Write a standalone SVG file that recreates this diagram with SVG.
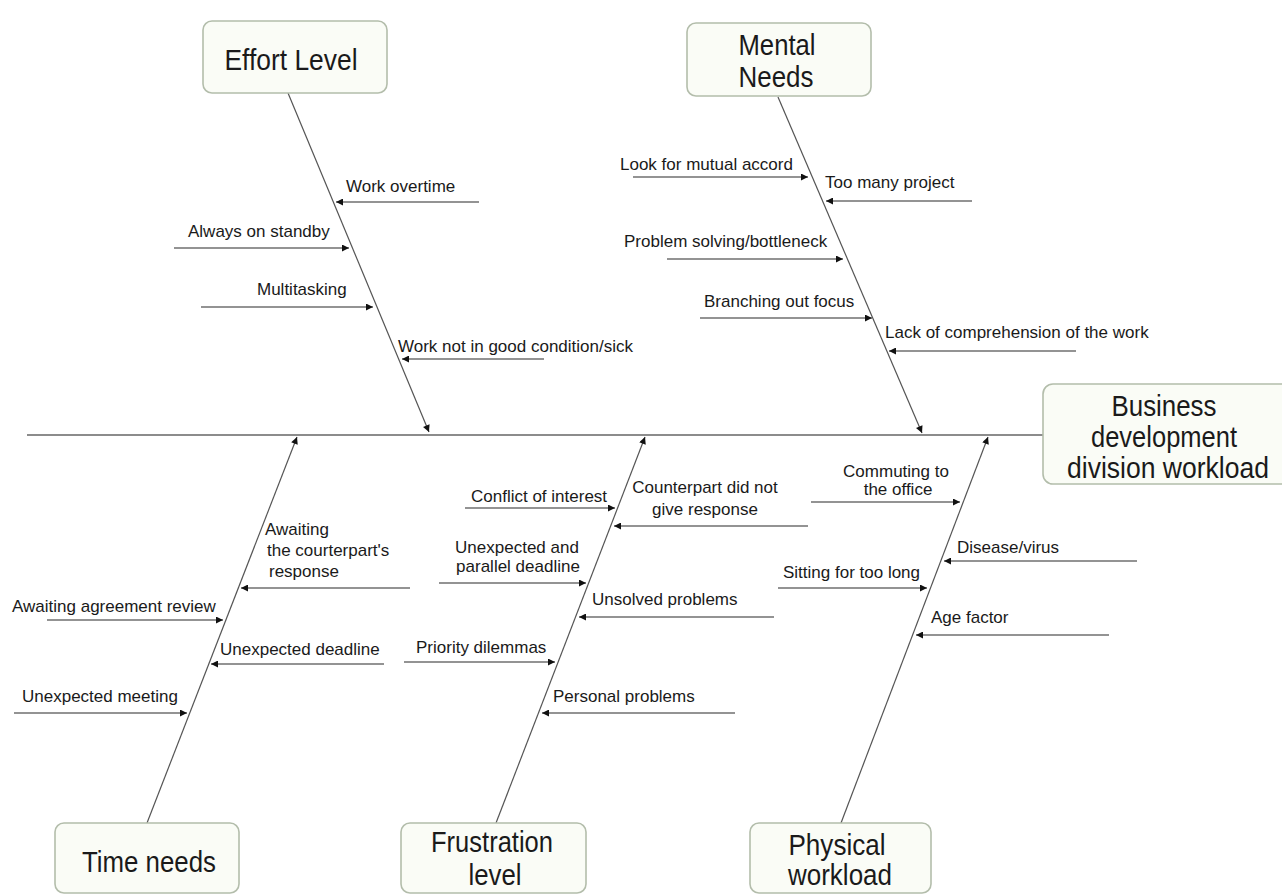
<svg xmlns="http://www.w3.org/2000/svg" width="1282" height="895" viewBox="0 0 1282 895">
<style>
.box{fill:#fafcf6;stroke:#b3bdab;stroke-width:1.6}
.bt{font-family:"Liberation Sans",Arial,sans-serif;font-size:29px;fill:#1a1a1a;text-anchor:middle}
.lb{font-family:"Liberation Sans",Arial,sans-serif;font-size:17px;fill:#1a1a1a}
.mid{text-anchor:middle}
.spine{stroke:#8c8c8c;stroke-width:2;fill:none}
.bone{stroke:#555;stroke-width:1.2;fill:none}
.sub{stroke:#939393;stroke-width:2;fill:none}
</style>
<defs>
<marker id="ah" viewBox="0 0 10 10" refX="10" refY="5" markerWidth="8" markerHeight="7" markerUnits="userSpaceOnUse" orient="auto">
<path d="M0,0 L10,5 L0,10 z" fill="#111"/>
</marker>
</defs>
<rect width="1282" height="895" fill="#ffffff"/>

<g id="connectors">
<line class="spine" x1="27" y1="435" x2="1043" y2="435"/>
<line class="bone" x1="288" y1="93" x2="429" y2="432" marker-end="url(#ah)"/>
<line class="bone" x1="778" y1="97" x2="922" y2="433" marker-end="url(#ah)"/>
<line class="bone" x1="147" y1="823" x2="297" y2="437" marker-end="url(#ah)"/>
<line class="bone" x1="496" y1="823" x2="645" y2="437" marker-end="url(#ah)"/>
<line class="bone" x1="841" y1="823" x2="988" y2="437" marker-end="url(#ah)"/>

<line class="sub" x1="479" y1="202" x2="336" y2="202" marker-end="url(#ah)"/>
<line class="sub" x1="174" y1="248" x2="349" y2="248" marker-end="url(#ah)"/>
<line class="sub" x1="201" y1="307" x2="373" y2="307" marker-end="url(#ah)"/>
<line class="sub" x1="544" y1="359" x2="402" y2="359" marker-end="url(#ah)"/>

<line class="sub" x1="633" y1="177" x2="808" y2="177" marker-end="url(#ah)"/>
<line class="sub" x1="972" y1="201" x2="826" y2="201" marker-end="url(#ah)"/>
<line class="sub" x1="667" y1="259" x2="843" y2="259" marker-end="url(#ah)"/>
<line class="sub" x1="700" y1="318" x2="872" y2="318" marker-end="url(#ah)"/>
<line class="sub" x1="1076" y1="351" x2="889" y2="351" marker-end="url(#ah)"/>

<line class="sub" x1="410" y1="588" x2="241" y2="588" marker-end="url(#ah)"/>
<line class="sub" x1="47" y1="620" x2="223" y2="620" marker-end="url(#ah)"/>
<line class="sub" x1="384" y1="664" x2="211" y2="664" marker-end="url(#ah)"/>
<line class="sub" x1="14" y1="713" x2="187" y2="713" marker-end="url(#ah)"/>

<line class="sub" x1="465" y1="508" x2="615" y2="508" marker-end="url(#ah)"/>
<line class="sub" x1="808" y1="526" x2="614" y2="526" marker-end="url(#ah)"/>
<line class="sub" x1="439" y1="583" x2="586" y2="583" marker-end="url(#ah)"/>
<line class="sub" x1="774" y1="617" x2="579" y2="617" marker-end="url(#ah)"/>
<line class="sub" x1="404" y1="662" x2="555" y2="662" marker-end="url(#ah)"/>
<line class="sub" x1="735" y1="713" x2="542" y2="713" marker-end="url(#ah)"/>

<line class="sub" x1="811" y1="502" x2="960" y2="502" marker-end="url(#ah)"/>
<line class="sub" x1="1137" y1="561" x2="944" y2="561" marker-end="url(#ah)"/>
<line class="sub" x1="778" y1="588" x2="927" y2="588" marker-end="url(#ah)"/>
<line class="sub" x1="1109" y1="635" x2="916" y2="635" marker-end="url(#ah)"/>
</g>

<g id="effort">
<rect class="box" x="203" y="21" width="184" height="72" rx="9"/>
<text class="bt" x="291" y="70" textLength="133" lengthAdjust="spacingAndGlyphs">Effort Level</text>
</g>
<g id="mental">
<rect class="box" x="687" y="23" width="184" height="73" rx="9"/>
<text class="bt" x="777" y="55" textLength="77" lengthAdjust="spacingAndGlyphs">Mental</text>
<text class="bt" x="776" y="87" textLength="75" lengthAdjust="spacingAndGlyphs">Needs</text>
</g>
<g id="head">
<rect class="box" x="1043" y="384" width="262" height="100" rx="10"/>
<text class="bt" x="1164" y="416" textLength="105" lengthAdjust="spacingAndGlyphs">Business</text>
<text class="bt" x="1164" y="447" textLength="146" lengthAdjust="spacingAndGlyphs">development</text>
<text class="bt" x="1168" y="478" textLength="202" lengthAdjust="spacingAndGlyphs">division workload</text>
</g>
<g id="time">
<rect class="box" x="55" y="823" width="184" height="70" rx="9"/>
<text class="bt" x="149" y="872" textLength="134" lengthAdjust="spacingAndGlyphs">Time needs</text>
</g>
<g id="frustration">
<rect class="box" x="401" y="823" width="185" height="70" rx="9"/>
<text class="bt" x="492" y="852" textLength="122" lengthAdjust="spacingAndGlyphs">Frustration</text>
<text class="bt" x="495" y="885" textLength="53" lengthAdjust="spacingAndGlyphs">level</text>
</g>
<g id="physical">
<rect class="box" x="750" y="823" width="181" height="70" rx="9"/>
<text class="bt" x="837" y="855" textLength="97" lengthAdjust="spacingAndGlyphs">Physical</text>
<text class="bt" x="840" y="885" textLength="104" lengthAdjust="spacingAndGlyphs">workload</text>
</g>

<g id="labels">
<text class="lb" x="346" y="192">Work overtime</text>
<text class="lb" x="188" y="237">Always on standby</text>
<text class="lb" x="257" y="295">Multitasking</text>
<text class="lb" x="398" y="352">Work not in good condition/sick</text>

<text class="lb" x="620" y="170">Look for mutual accord</text>
<text class="lb" x="825" y="188">Too many project</text>
<text class="lb" x="624" y="247">Problem solving/bottleneck</text>
<text class="lb" x="704" y="307">Branching out focus</text>
<text class="lb" x="885" y="338">Lack of comprehension of the work</text>

<text class="lb" x="265" y="535">Awaiting</text>
<text class="lb" x="267" y="556">the courterpart's</text>
<text class="lb" x="269" y="577">response</text>
<text class="lb" x="12" y="612">Awaiting agreement review</text>
<text class="lb" x="220" y="655">Unexpected deadline</text>
<text class="lb" x="22" y="702">Unexpected meeting</text>

<text class="lb" x="471" y="502">Conflict of interest</text>
<text class="lb mid" x="705" y="493">Counterpart did not</text>
<text class="lb mid" x="705" y="515">give response</text>
<text class="lb mid" x="517" y="553">Unexpected and</text>
<text class="lb mid" x="518" y="572">parallel deadline</text>
<text class="lb" x="592" y="605">Unsolved problems</text>
<text class="lb" x="416" y="653">Priority dilemmas</text>
<text class="lb" x="553" y="702">Personal problems</text>

<text class="lb mid" x="896" y="477">Commuting to</text>
<text class="lb mid" x="898" y="495">the office</text>
<text class="lb" x="957" y="553">Disease/virus</text>
<text class="lb" x="783" y="578">Sitting for too long</text>
<text class="lb" x="931" y="623">Age factor</text>
</g>
</svg>
